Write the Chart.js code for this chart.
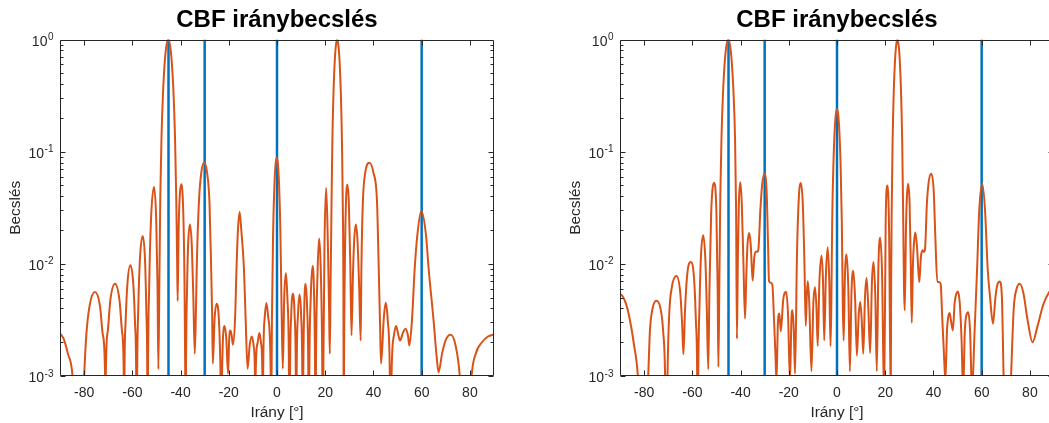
<!DOCTYPE html>
<html>
<head>
<meta charset="utf-8">
<script src="https://cdn.jsdelivr.net/npm/chart.js@4.4.1/dist/chart.umd.min.js"></script>
<style>
  html, body { margin: 0; padding: 0; background: #fff; width: 1049px; height: 423px; overflow: hidden; position: relative; }
  canvas { position: absolute; top: 0; }
  #left { left: 0; }
  #right { left: 560px; }
</style>
</head>
<body>
<canvas id="left" width="554" height="423"></canvas>
<canvas id="right" width="554" height="423"></canvas>
<script>
// True source directions (degrees)
const trueDirections = [-45, -30, 0, 60];

// CBF spectrum, scenario A: [direction in degrees, normalised estimate]
const spectrumA = [
  [-90, 2.4e-3], [-88.5, 2.15e-3], [-86.8, 1.6e-3], [-84.8, 1e-3], [-82.4, 1e-4],
  [-80.0, 1e-3], [-79.1, 2.3e-3], [-77.75, 4.2e-3], [-75.5, 5.6e-3], [-73.4, 4.2e-3], [-72.2, 2.3e-3], [-71.3, 1e-3], [-71.15, 1e-4],
  [-71.0, 1e-3], [-70.24, 2.46e-3], [-69.1, 4.8e-3], [-67.2, 6.65e-3], [-65.35, 4.8e-3], [-64.24, 2.46e-3], [-63.55, 1e-3], [-63.4, 1e-4],
  [-63.25, 1e-3], [-62.8, 3.0e-3], [-62.05, 6.6e-3], [-60.8, 9.7e-3], [-59.6, 6.6e-3], [-58.9, 3.0e-3], [-58.4, 1e-3], [-58.2, 1e-4],
  [-58.0, 1e-3], [-57.54, 4.0e-3], [-56.85, 0.011], [-55.7, 0.0177], [-54.75, 0.011], [-54.22, 4.0e-3], [-53.8, 1e-3], [-53.65, 1e-4],
  [-53.5, 1e-3], [-53.0, 6.4e-3], [-52.25, 0.025], [-51.0, 0.0485], [-50.1, 0.025], [-49.56, 6.4e-3], [-49.2, 1.15e-3],
  [-48.8, 6.4e-3], [-48.4, 0.04], [-47.9, 0.135], [-47.2, 0.366], [-46.5, 0.657], [-45.8, 0.903], [-45.1, 1.0],
  [-44.4, 0.903], [-43.7, 0.657], [-43.0, 0.366], [-42.3, 0.135], [-41.8, 0.04], [-41.45, 0.012], [-41.2, 4.66e-3],
  [-40.8, 0.02], [-40.4, 0.038], [-39.7, 0.0512], [-38.9, 0.03], [-38.4, 8e-3], [-38.05, 1e-3], [-37.9, 1e-4],
  [-37.75, 1e-3], [-37.3, 6e-3], [-36.85, 0.015], [-36.1, 0.0224], [-35.3, 0.014], [-34.7, 5e-3], [-34.1, 1.58e-3],
  [-33.6, 4e-3], [-33.3, 9e-3], [-32.4, 0.035], [-31.4, 0.065], [-30.2, 0.08], [-29.0, 0.065], [-28.0, 0.035], [-27.3, 9e-3], [-26.9, 3.5e-3], [-26.6, 1.29e-3],
  [-25.9, 3.2e-3], [-25.0, 4.4e-3], [-24.1, 3.2e-3], [-23.5, 1.3e-3], [-23.2, 6e-4],
  [-22.4, 2.2e-3], [-21.7, 2.79e-3], [-21.0, 2.1e-3], [-20.3, 1.05e-3],
  [-19.8, 2.2e-3], [-19.3, 2.55e-3], [-18.8, 2.3e-3], [-18.3, 1.9e-3],
  [-17.4, 3.2e-3], [-16.8, 9e-3], [-16.2, 0.02], [-15.5, 0.029], [-14.8, 0.02], [-13.7, 9e-3], [-13.0, 3.2e-3], [-12.2, 1.16e-3],
  [-11.3, 1.9e-3], [-10.4, 2.25e-3], [-9.6, 1.8e-3], [-9.15, 1e-3], [-9.0, 1e-4],
  [-8.85, 1e-3], [-8.1, 1.95e-3], [-7.3, 2.42e-3], [-6.6, 1.95e-3], [-6.05, 1e-3], [-5.9, 1e-4],
  [-5.75, 1e-3], [-5.1, 3.3e-3], [-4.4, 4.47e-3], [-3.6, 3.3e-3], [-2.6, 1e-3], [-2.4, 1e-4],
  [-2.25, 1e-3], [-2.1, 3.2e-3], [-1.6, 0.0197], [-1.1, 0.0485], [-0.6, 0.077], [-0.1, 0.089], [0.4, 0.077], [0.9, 0.0485], [1.4, 0.0197], [1.9, 4e-3], [2.4, 1.16e-3],
  [3.0, 5e-3], [3.7, 8.3e-3], [4.3, 5e-3], [4.9, 1.5e-3], [5.2, 1e-4],
  [5.4, 1e-3], [5.9, 3.5e-3], [6.6, 5.4e-3], [7.3, 3.5e-3], [7.8, 1e-3], [7.98, 1e-4],
  [8.15, 1e-3], [8.7, 3.5e-3], [9.36, 5.34e-3], [10.0, 3.5e-3], [10.5, 1e-3], [10.7, 1e-4],
  [10.9, 1e-3], [11.3, 4e-3], [11.84, 6.65e-3], [12.5, 4e-3], [13.0, 1e-3], [13.2, 1e-4],
  [13.4, 1e-3], [14.0, 5e-3], [14.74, 9.56e-3], [15.4, 5e-3], [15.8, 1e-3], [15.98, 1e-4],
  [16.15, 1e-3], [16.8, 8e-3], [17.5, 0.0168], [18.2, 8e-3], [18.8, 1e-3], [19.0, 1e-4],
  [19.2, 1e-3], [19.7, 0.015], [20.4, 0.0478], [21.1, 0.015], [21.6, 4e-3], [21.9, 1.58e-3],
  [22.2, 6e-3], [22.55, 0.026], [22.95, 0.121], [23.45, 0.349], [23.95, 0.645], [24.45, 0.898], [24.95, 1.0],
  [25.45, 0.898], [25.95, 0.645], [26.45, 0.349], [26.95, 0.121], [27.35, 0.026], [27.55, 5.8e-3], [27.7, 1e-4],
  [27.8, 1e-3], [28.2, 0.012], [28.6, 0.035], [29.2, 0.0508], [29.8, 0.035], [30.4, 0.01], [30.9, 2.3e-3],
  [31.5, 8e-3], [32.0, 0.016], [32.7, 0.0225], [33.4, 0.016], [34.1, 6e-3], [34.7, 2.07e-3],
  [35.0, 9e-3], [35.6, 0.035], [36.6, 0.065], [38.3, 0.0798], [40.0, 0.065], [41.5, 0.035], [42.2, 9e-3], [42.8, 2.5e-3], [43.15, 1.29e-3],
  [44.3, 3.3e-3], [45.1, 4.5e-3], [45.9, 3.2e-3], [46.8, 1e-3], [47.15, 1e-4],
  [47.5, 1e-3], [48.5, 2.3e-3], [49.36, 2.79e-3], [50.2, 2.4e-3], [51.0, 2.07e-3],
  [52.3, 2.45e-3], [53.36, 2.64e-3], [54.3, 2.3e-3], [54.9, 1.87e-3],
  [56.0, 3.2e-3], [57.1, 9e-3], [58.2, 0.018], [59.85, 0.0296], [61.8, 0.018], [62.9, 9e-3], [64.9, 3.2e-3], [66.2, 1.5e-3], [67.0, 1.08e-3],
  [68.5, 1.6e-3], [70.0, 2.1e-3], [72.0, 2.33e-3], [74.0, 1.9e-3], [75.8, 1e-3], [78.3, 1e-4],
  [80.7, 1e-3], [82.5, 1.6e-3], [85.0, 2.0e-3], [87.5, 2.25e-3], [90.0, 2.35e-3]
];

// CBF spectrum, scenario B
const spectrumB = [
  [-90, 5.4e-3], [-88.8, 5.1e-3], [-87.5, 4.4e-3], [-86.3, 3.5e-3], [-84.2, 1.9e-3], [-82.6, 1e-3], [-80.5, 1e-4],
  [-78.3, 1e-3], [-77.6, 2.5e-3], [-76.6, 3.9e-3], [-74.9, 4.68e-3], [-73.1, 3.9e-3], [-72.1, 2.5e-3], [-71.3, 1e-3], [-70.8, 1e-4],
  [-70.3, 1e-3], [-69.6, 3.5e-3], [-68.5, 6.2e-3], [-66.6, 7.8e-3], [-65.0, 5.5e-3], [-64.2, 2.8e-3], [-63.7, 1.56e-3],
  [-63.0, 4e-3], [-62.0, 8.5e-3], [-60.6, 0.0104], [-59.3, 7.5e-3], [-58.5, 3e-3], [-58.0, 1e-3], [-57.8, 1e-4],
  [-57.55, 1e-3], [-57.0, 4.5e-3], [-56.4, 0.012], [-55.5, 0.018], [-54.6, 0.011], [-54.0, 4e-3], [-53.4, 1.15e-3],
  [-52.9, 6e-3], [-52.2, 0.028], [-50.95, 0.053], [-50.0, 0.028], [-49.5, 6e-3], [-49.2, 1.2e-3],
  [-48.8, 6.4e-3], [-48.4, 0.04], [-47.9, 0.135], [-47.2, 0.366], [-46.5, 0.657], [-45.8, 0.903], [-45.1, 1.0],
  [-44.4, 0.903], [-43.7, 0.657], [-43.0, 0.366], [-42.3, 0.135], [-41.85, 0.03], [-41.5, 2.15e-3],
  [-41.1, 0.012], [-40.7, 0.035], [-40.1, 0.0535], [-39.5, 0.035], [-38.8, 0.01], [-38.15, 3.25e-3],
  [-37.6, 8e-3], [-37.1, 0.015], [-36.45, 0.0188], [-35.8, 0.015], [-35.3, 9e-3], [-34.95, 7.1e-3],
  [-34.3, 0.0115], [-33.6, 0.0129], [-33.1, 0.0128], [-32.6, 0.0135],
  [-31.8, 0.03], [-31.0, 0.052], [-30.1, 0.0637], [-29.2, 0.045], [-28.6, 0.015], [-28.2, 7e-3], [-27.5, 6.8e-3], [-26.8, 6.5e-3], [-26.2, 3.5e-3], [-25.5, 1.5e-3], [-25.1, 9e-4],
  [-24.5, 3e-3], [-23.9, 3.6e-3], [-23.3, 2.5e-3],
  [-22.3, 4.8e-3], [-21.1, 5.6e-3], [-20.3, 3.5e-3], [-19.5, 9e-4],
  [-18.9, 3.2e-3], [-18.45, 3.85e-3], [-17.9, 2.5e-3], [-17.4, 1.05e-3],
  [-16.6, 0.012], [-15.8, 0.04], [-15.0, 0.0527], [-14.2, 0.035], [-13.5, 0.01], [-12.95, 2.8e-3],
  [-12.5, 5.5e-3], [-12.1, 7e-3], [-11.5, 4.5e-3], [-10.6, 1.1e-3],
  [-9.8, 4.5e-3], [-9.1, 6.2e-3], [-8.5, 4e-3], [-8.0, 1.85e-3],
  [-7.3, 7e-3], [-6.4, 0.0119], [-5.8, 7e-3], [-5.3, 2.07e-3],
  [-4.6, 8e-3], [-3.85, 0.0141], [-3.2, 7e-3], [-2.7, 1.85e-3],
  [-2.4, 3.6e-3], [-2.0, 0.0235], [-1.5, 0.076], [-1.0, 0.149], [-0.5, 0.214], [0, 0.239],
  [0.5, 0.214], [1.0, 0.149], [1.5, 0.076], [2.0, 0.0235], [2.4, 4.5e-3], [2.75, 2.07e-3],
  [3.3, 8e-3], [4.0, 0.0121], [4.7, 6e-3], [5.35, 1.1e-3],
  [6.0, 5.5e-3], [6.75, 8.7e-3], [7.5, 5e-3], [8.25, 1.52e-3],
  [9.0, 3.5e-3], [9.65, 4.56e-3], [10.3, 3e-3], [10.9, 1.58e-3],
  [11.6, 5e-3], [12.25, 7.5e-3], [13.0, 4e-3], [13.75, 1.6e-3],
  [14.5, 7e-3], [15.15, 0.0104], [15.9, 5e-3], [16.5, 1.1e-3],
  [17.2, 0.01], [17.9, 0.0171], [18.7, 8e-3], [19.55, 6e-4],
  [20.2, 0.025], [20.9, 0.0501], [21.6, 0.02], [22.3, 6e-4],
  [22.45, 5.8e-3], [22.65, 0.026], [23.05, 0.121], [23.55, 0.349], [24.05, 0.645], [24.55, 0.898], [25.05, 1.0],
  [25.55, 0.898], [26.05, 0.645], [26.55, 0.349], [27.05, 0.121], [27.45, 0.026], [27.8, 6e-3], [28.1, 3.85e-3],
  [28.6, 0.02], [29.0, 0.04], [29.5, 0.0519], [30.1, 0.035], [30.6, 0.01], [31.0, 2.98e-3],
  [31.5, 0.01], [32.0, 0.016], [32.5, 0.019], [33.2, 0.014], [33.7, 9e-3], [34.15, 6.9e-3],
  [34.8, 0.0115], [35.5, 0.0132], [36.0, 0.0128], [36.5, 0.0135],
  [37.3, 0.035], [38.1, 0.055], [39.1, 0.0637], [40.1, 0.045], [40.8, 0.017], [41.6, 6.9e-3], [42.3, 6.9e-3], [43.0, 6.6e-3], [43.6, 3.5e-3], [44.4, 1.5e-3], [44.95, 9e-4],
  [45.6, 2.5e-3], [46.2, 3.4e-3], [46.7, 3.64e-3], [47.4, 3e-3], [48.05, 2.55e-3],
  [48.8, 4.5e-3], [49.5, 5.4e-3], [50.15, 5.68e-3], [50.9, 4.5e-3], [51.7, 2e-3], [52.3, 7e-4],
  [53.0, 2.5e-3], [53.7, 3.5e-3], [54.4, 3.71e-3], [55.2, 2.5e-3], [56.0, 7e-4],
  [57.0, 2.3e-3], [58.1, 9e-3], [59.0, 0.03], [60.2, 0.0519], [61.4, 0.03], [62.5, 9e-3], [63.5, 5e-3], [64.7, 2.92e-3],
  [65.7, 5e-3], [66.5, 6.5e-3], [67.5, 6.98e-3], [68.4, 5e-3], [69.1, 1e-3], [70.6, 1e-4], [72.2, 1e-3],
  [73.3, 4e-3], [74.5, 6e-3], [75.8, 6.65e-3], [77.3, 5.5e-3], [79.0, 3.2e-3], [81.1, 2.0e-3], [83.2, 2.8e-3], [85.5, 4.3e-3], [88.0, 5.6e-3], [90.0, 6.3e-3]
];

// Axis ticks and labels
const xTickValues = [-80, -60, -40, -20, 0, 20, 40, 60, 80];
const yDecades = [1e-3, 1e-2, 1e-1, 1];
const yTickExponents = ['-3', '-2', '-1', '0'];

const FONT = "'Liberation Sans', Arial, Helvetica, sans-serif";
const AXIS_COLOR = '#262626';
const BLUE = '#0072BD';
const ORANGE = '#D95319';

Chart.defaults.font.family = FONT;

// major decades plus 2..9 minor ticks in between
const yTickValues = [];
yDecades.forEach((d, i) => {
  yTickValues.push(d);
  if (i < yDecades.length - 1) for (let k = 2; k <= 9; k++) yTickValues.push(k * d);
});
const isDecade = v => Math.abs(Math.log10(v) - Math.round(Math.log10(v))) < 1e-6;

// Box around the axes with inward tick marks on all four sides,
// plus power-of-ten labels with raised exponents on the y axis
const axesFrame = {
  id: 'axesFrame',
  afterDatasetsDraw(chart) {
    const { ctx, chartArea: a, scales: { x, y } } = chart;
    const L = Math.round(a.left) + 0.5, R = Math.round(a.right) - 0.5;
    const T = Math.round(a.top) + 0.5, B = Math.round(a.bottom) - 0.5;
    ctx.save();
    ctx.strokeStyle = AXIS_COLOR;
    ctx.lineWidth = 1;
    ctx.beginPath();
    ctx.moveTo(L, T); ctx.lineTo(R, T); ctx.lineTo(R, B); ctx.lineTo(L, B); ctx.closePath();
    xTickValues.forEach(v => {
      const px = Math.round(x.getPixelForValue(v)) + 0.5;
      ctx.moveTo(px, B); ctx.lineTo(px, B - 5);
      ctx.moveTo(px, T); ctx.lineTo(px, T + 5);
    });
    y.ticks.forEach(t => {
      const py = Math.round(y.getPixelForValue(t.value)) + 0.5;
      const len = isDecade(t.value) ? 5 : 3;
      ctx.moveTo(L, py); ctx.lineTo(L + len, py);
      ctx.moveTo(R, py); ctx.lineTo(R - len, py);
    });
    ctx.stroke();

    ctx.fillStyle = AXIS_COLOR;
    ctx.textAlign = 'left';
    ctx.textBaseline = 'alphabetic';
    const rightEdge = a.left - 6.5;
    yDecades.forEach((d, i) => {
      const py = y.getPixelForValue(d);
      const exp = yTickExponents[i];
      ctx.font = `10px ${FONT}`;
      const we = ctx.measureText(exp).width;
      ctx.font = `14px ${FONT}`;
      const wb = ctx.measureText('10').width;
      ctx.fillText('10', rightEdge - we - wb - 0.5, py + 6);
      ctx.font = `10px ${FONT}`;
      ctx.fillText(exp, rightEdge - we, py + 0.5);
    });
    ctx.restore();
  }
};

function stems(dirs) {
  const pts = [];
  dirs.forEach(d => { pts.push({ x: d, y: 1e-4 }, { x: d, y: 1 }, { x: d, y: null }); });
  return pts;
}

function makeChart(id, spectrum) {
  return new Chart(document.getElementById(id), {
    type: 'line',
    data: {
      datasets: [
        {
          data: spectrum.map(([a, v]) => ({ x: a, y: v })),
          borderColor: ORANGE,
          borderWidth: 2,
          pointRadius: 0,
          cubicInterpolationMode: 'monotone',
          fill: false
        },
        {
          data: stems(trueDirections),
          borderColor: BLUE,
          borderWidth: 2.5,
          pointRadius: 0,
          tension: 0,
          spanGaps: false,
          fill: false
        }
      ]
    },
    options: {
      responsive: false,
      animation: false,
      events: [],
      layout: { padding: { left: 0, right: 60, top: 0, bottom: 0 } },
      plugins: {
        legend: { display: false },
        tooltip: { enabled: false },
        title: {
          display: true,
          fullSize: false,
          text: 'CBF iránybecslés',
          color: '#000',
          font: { size: 24, weight: 'bold', family: FONT, lineHeight: 1.15 },
          padding: { top: 7, bottom: 5 }
        }
      },
      scales: {
        x: {
          type: 'linear',
          min: -90,
          max: 90,
          afterBuildTicks: s => { s.ticks = xTickValues.map(v => ({ value: v })); },
          afterFit: s => { s.height = 47; },
          grid: { display: false, drawTicks: false },
          border: { display: false },
          ticks: {
            autoSkip: false,
            maxRotation: 0,
            color: AXIS_COLOR,
            font: { size: 14, family: FONT },
            padding: 9,
            callback: v => String(v)
          },
          title: {
            display: true,
            text: 'Irány [°]',
            color: AXIS_COLOR,
            font: { size: 15.4, family: FONT },
            padding: { top: 0, bottom: 1 }
          }
        },
        y: {
          type: 'logarithmic',
          min: 1e-3,
          max: 1,
          afterBuildTicks: s => { s.ticks = yTickValues.map(v => ({ value: v })); },
          afterFit: s => { s.width = 60; },
          grid: { display: false, drawTicks: false },
          border: { display: false },
          ticks: { display: false },
          title: {
            display: true,
            text: 'Becslés',
            color: AXIS_COLOR,
            font: { size: 15.4, family: FONT },
            padding: { top: 7, bottom: 0 }
          }
        }
      }
    },
    plugins: [axesFrame]
  });
}

makeChart('left', spectrumA);
makeChart('right', spectrumB);
</script>
</body>
</html>
